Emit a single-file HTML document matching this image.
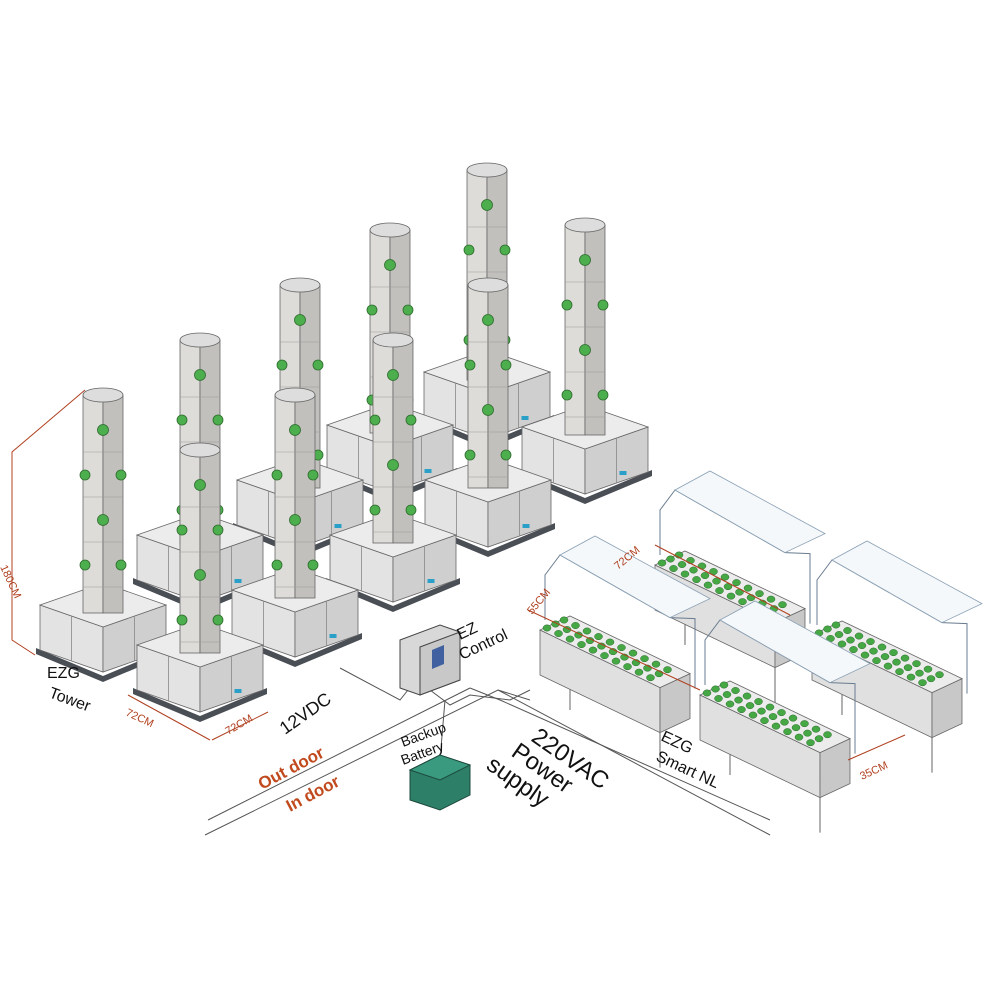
<!DOCTYPE html>
<html><head><meta charset="utf-8"><style>
html,body{margin:0;padding:0;background:#fff;}
svg{display:block;}
text{font-family:"Liberation Sans",sans-serif;}
</style></head><body>
<svg id="s" width="1000" height="1000" viewBox="0 0 1000 1000" xmlns="http://www.w3.org/2000/svg">
<rect width="1000" height="1000" fill="#fff"/>
<g id="lines" fill="none" stroke="#555" stroke-width="1">
  <polyline points="205,835 498,690 530,700"/>
  <polyline points="208,820 470,688"/>
  <polyline points="498,690 770,835"/>
  <polyline points="470,688 500,700 770,820"/>
  <polyline points="340,668 400,700 408,690"/>
  <polyline points="430,690 450,705 470,695 510,700 530,690"/>
  <polyline points="445,700 440,760"/>
</g>
<g id="towers"></g>
<g id="nft"></g>
<g stroke="#b04020" stroke-width="1" fill="none">
  <polyline points="85,390 12,452 12,640 35,655"/>
  <line x1="128" y1="695" x2="210" y2="740"/>
  <line x1="212" y1="740" x2="268" y2="712"/>
  <line x1="655" y1="545" x2="790" y2="615"/>
  <line x1="528" y1="610" x2="700" y2="690"/>
  <line x1="848" y1="760" x2="905" y2="735"/>
</g>
<polygon points="400,640 440,625 460,632 460,680 420,695 400,688" fill="#d8d8d8" stroke="#444"/>
<polygon points="420,647 460,632 460,680 420,695" fill="#c8c8c8" stroke="#444"/>
<polygon points="432,650 444,645 444,664 432,669" fill="#4060a0"/>
<polygon points="410,770 440,755 470,765 470,795 440,810 410,800" fill="#2e7f68" stroke="#1c4a3c"/>
<polygon points="410,770 440,755 470,765 440,780" fill="#3a9a80" stroke="#1c4a3c"/>
<g fill="#b04020" font-size="11">
  <text transform="translate(0,567) rotate(65)">180CM</text>
  <text transform="translate(125,715) rotate(25)">72CM</text>
  <text transform="translate(228,735) rotate(-30)">72CM</text>
  <text transform="translate(618,570) rotate(-40)">72CM</text>
  <text transform="translate(532,615) rotate(-50)">55CM</text>
  <text transform="translate(862,780) rotate(-25)">35CM</text>
</g>
<g fill="#c04a1e" font-size="17" font-weight="bold">
  <text transform="translate(262,790) rotate(-28)">Out door</text>
  <text transform="translate(290,812) rotate(-28)">In door</text>
</g>
<g fill="#111" font-size="16">
  <text x="47" y="678">EZG</text>
  <text transform="translate(48,697) rotate(20)">Tower</text>
  <text transform="translate(285,735) rotate(-35)" font-size="18">12VDC</text>
  <text transform="translate(460,640) rotate(-25)">EZ</text>
  <text transform="translate(462,660) rotate(-25)">Control</text>
  <text transform="translate(403,747) rotate(-20)" font-size="14">Backup</text>
  <text transform="translate(403,765) rotate(-20)" font-size="14">Battery</text>
  <text transform="translate(530,740) rotate(35)" font-size="24">220VAC</text>
  <text transform="translate(510,755) rotate(35)" font-size="24">Power</text>
  <text transform="translate(485,768) rotate(35)" font-size="24">supply</text>
  <text transform="translate(660,740) rotate(25)">EZG</text>
  <text transform="translate(655,760) rotate(25)">Smart NL</text>
</g>
</svg>
<script>
var NS="http://www.w3.org/2000/svg";
function el(p,t,a){var e=document.createElementNS(NS,t);for(var k in a)e.setAttribute(k,a[k]);p.appendChild(e);return e;}
var T=document.getElementById("towers");
var towers=[[487,170,372],[585,225,427],[390,230,425],[488,285,480],[300,285,480],[393,340,535],[200,340,535],[295,395,590],[103,395,605],[200,450,645]];
towers.forEach(function(t){
  var cx=t[0],top=t[1],b=t[2],w=63,h=22,d=45;
  el(T,"polygon",{points:[cx-w-4,b+d-2,cx,b+h+d+4,cx+w+4,b+d-2,cx+w+4,b+d+4,cx,b+h+d+10,cx-w-4,b+d+4].join(","),fill:"#4a4e55"});
  el(T,"polygon",{points:[cx-w,b,cx,b+h,cx,b+h+d,cx-w,b+d].join(","),fill:"#e3e3e3",stroke:"#666","stroke-width":0.8});
  el(T,"polygon",{points:[cx,b+h,cx+w,b,cx+w,b+d,cx,b+h+d].join(","),fill:"#cfcfcf",stroke:"#666","stroke-width":0.8});
  el(T,"polygon",{points:[cx-w,b,cx,b-h,cx+w,b,cx,b+h].join(","),fill:"#ececec",stroke:"#666","stroke-width":0.8});
  el(T,"line",{x1:cx-w/2,y1:b+h/2,x2:cx-w/2,y2:b+h/2+d,stroke:"#888","stroke-width":0.8});
  el(T,"line",{x1:cx+w/2,y1:b+h/2,x2:cx+w/2,y2:b+h/2+d,stroke:"#888","stroke-width":0.8});
  el(T,"rect",{x:cx+w/2+3,y:b+h/2+d-12,width:7,height:4,fill:"#2aa0c8"});
  var cw=20;
  el(T,"rect",{x:cx-cw,y:top,width:cw,height:b-top+8,fill:"#dedcd8",stroke:"#666","stroke-width":0.8});
  el(T,"rect",{x:cx,y:top,width:cw,height:b-top+8,fill:"#c2c0bc",stroke:"#666","stroke-width":0.8});
  el(T,"ellipse",{cx:cx,cy:top,rx:cw,ry:7,fill:"#ddd",stroke:"#666","stroke-width":0.8});
  for(var y=top+35,i=0;y<b-15;y+=45,i++){
    if(i%2==0){el(T,"circle",{cx:cx,cy:y,r:5.5,fill:"#4cae4c",stroke:"#2d6b2d","stroke-width":0.8});}
    else{el(T,"circle",{cx:cx-cw+2,cy:y,r:5,fill:"#4cae4c",stroke:"#2d6b2d","stroke-width":0.8});
         el(T,"circle",{cx:cx+cw-2,cy:y,r:5,fill:"#4cae4c",stroke:"#2d6b2d","stroke-width":0.8});}
    el(T,"line",{x1:cx-cw,y1:y+22,x2:cx+cw,y2:y+22,stroke:"#999","stroke-width":0.5});
  }
});
var N=document.getElementById("nft");
var units=[[655,565],[812,635],[540,630],[700,695]];
units.forEach(function(u){
  var x=u[0],y=u[1],L=120,ly=L*0.48,wx=30,wy=-14,hd=45;
  el(N,"polyline",{points:[x+5,y-10,x+5,y-55,x+20,y-75,x+L+10,y+ly-70,x+L+wx+5,y+ly+wy-55,x+L+wx+5,y+ly+wy+15].join(","),fill:"none",stroke:"#6a7c90","stroke-width":1});
  el(N,"polygon",{points:[x+20,y-75,x+wx+25,y+wy-80,x+L+wx+20,y+ly+wy-75,x+L+10,y+ly-70].join(","),fill:"#f4f8fb",stroke:"#8aa0b4","stroke-width":0.8});
  el(N,"line",{x1:x+30,y1:y+40,x2:x+30,y2:y+80,stroke:"#666"});
  el(N,"line",{x1:x+L,y1:y+ly+40,x2:x+L,y2:y+ly+80,stroke:"#666"});
  el(N,"polygon",{points:[x,y,x+L,y+ly,x+L,y+ly+hd,x,y+hd].join(","),fill:"#e0e0e0",stroke:"#666","stroke-width":0.8});
  el(N,"polygon",{points:[x+L,y+ly,x+L+wx,y+ly+wy,x+L+wx,y+ly+wy+hd,x+L,y+ly+hd].join(","),fill:"#c8c8c8",stroke:"#666","stroke-width":0.8});
  el(N,"polygon",{points:[x,y,x+wx,y+wy,x+L+wx,y+ly+wy,x+L,y+ly].join(","),fill:"#ececec",stroke:"#666","stroke-width":0.8});
  for(var i=0;i<10;i++)for(var j=0;j<3;j++){
    var px=x+7+i*11.5+j*8.5, py=y-2+i*11.5*0.48-j*4;
    el(N,"ellipse",{cx:px,cy:py,rx:4,ry:3.2,fill:"#45a845",stroke:"#2d6b2d","stroke-width":0.5});
  }
});
</script>
</body></html>
